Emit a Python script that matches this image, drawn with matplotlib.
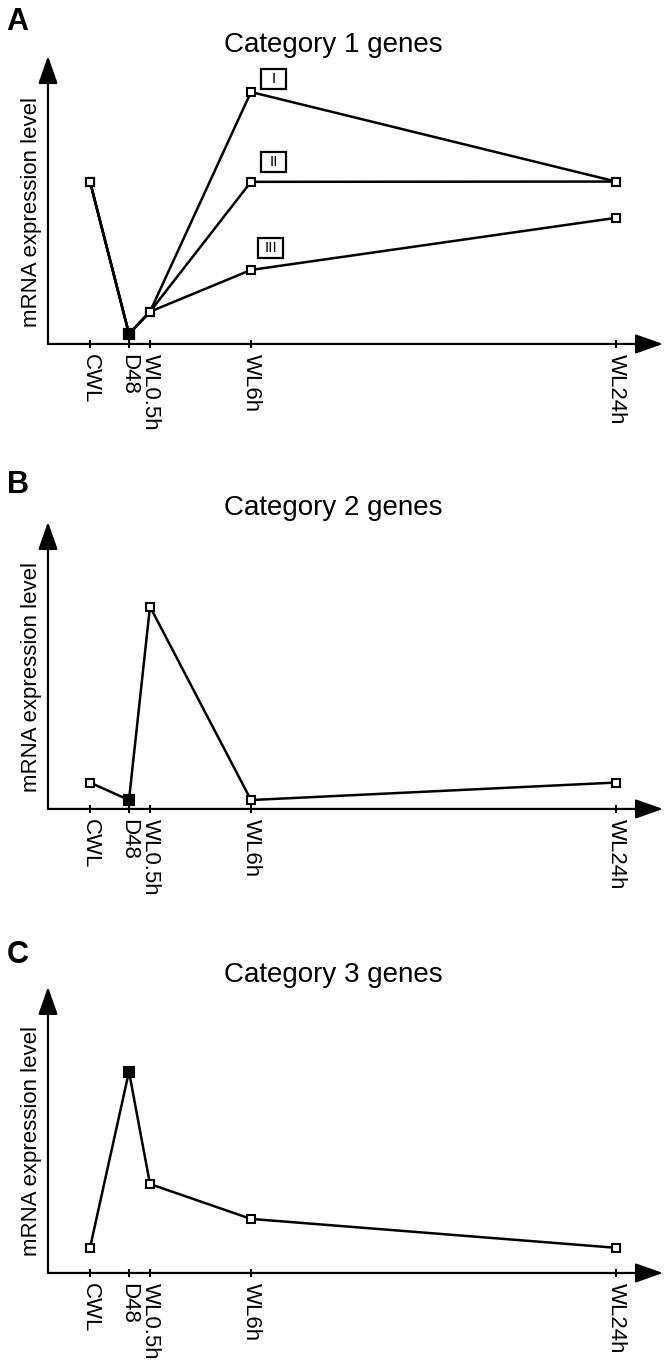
import matplotlib
matplotlib.use("Agg")
import matplotlib.pyplot as plt
from matplotlib.patches import Rectangle
from matplotlib.transforms import ScaledTranslation

plt.rcParams["font.family"] = ["Liberation Sans", "DejaVu Sans"]

# time points (schematic positions along the x axis)
TIMEPOINTS = ["CWL", "D48", "WL0.5h", "WL6h", "WL24h"]
X_POS = [2.1, 4.05, 5.1, 10.15, 28.4]

# category 1: three sub-patterns sharing the first three points
CAT1_I = [5.64, 0.35, 1.12, 8.75, 5.64]
CAT1_II = [5.64, 0.35, 1.12, 5.63, 5.64]
CAT1_III = [5.64, 0.35, 1.12, 2.57, 4.38]
CAT1_NAMES = ["I", "II", "III"]

CAT2 = [0.92, 0.31, 7.05, 0.31, 0.92]
CAT3 = [0.88, 7.04, 3.11, 1.89, 0.88]

LW = 1.8
AXIS_LW = 1.6


def draw_series(ax, y):
    ax.plot(X_POS, y, color="black", lw=LW, zorder=3, clip_on=False)
    # open squares, the D48 point is filled
    for i, (x, v) in enumerate(zip(X_POS, y)):
        filled = TIMEPOINTS[i] == "D48"
        ax.plot(x, v, marker="s", ms=6.5 if filled else 6, mew=1.5,
                mec="black", mfc="black" if filled else "white",
                zorder=4, clip_on=False)


def setup_axes(ax):
    ax.set_xlim(0, 30.75)
    ax.set_ylim(0, 10)
    for s in ax.spines.values():
        s.set_visible(False)
    arrow = dict(arrowstyle="-|>,head_length=0.85,head_width=0.3",
                 mutation_scale=20, lw=AXIS_LW, color="black",
                 shrinkA=0, shrinkB=0)
    ax.annotate("", xy=(1, 0), xytext=(0, 0), xycoords="axes fraction",
                arrowprops=arrow)
    ax.annotate("", xy=(0, 1), xytext=(0, 0), xycoords="axes fraction",
                arrowprops=arrow)
    ax.set_xticks(X_POS)
    ax.set_xticklabels(TIMEPOINTS, rotation=270, fontsize=16)
    ax.tick_params(axis="x", direction="inout", length=6, width=1.5, pad=4)
    ax.set_yticks([])
    ax.text(-0.0276, 0.46, "mRNA expression level", rotation=90,
            transform=ax.transAxes, ha="center", va="center", fontsize=16)


def boxed_label(ax, x, y, label):
    # fixed-size box (in inches) centred on a data position
    w, h = 0.25, 0.20
    tr = fig.dpi_scale_trans + ScaledTranslation(x, y, ax.transData)
    ax.add_patch(Rectangle((-w / 2, -h / 2), w, h, transform=tr,
                           fc="white", ec="black", lw=1.6, clip_on=False,
                           zorder=5))
    ax.text(x, y, label, ha="center", va="center", fontsize=11, zorder=6)


fig = plt.figure(figsize=(6.72, 13.66), dpi=100)

rects = [
    [0.0714, 0.7482, 0.9152, 0.2108],
    [0.0714, 0.4078, 0.9152, 0.2101],
    [0.0714, 0.0681, 0.9152, 0.2094],
]
letters = ["A", "B", "C"]
letter_y = [0.978, 0.639, 0.295]
title_y = [0.962, 0.623, 0.281]

axes = [fig.add_axes(r) for r in rects]
for ax in axes:
    setup_axes(ax)

for cat in [CAT1_I, CAT1_II, CAT1_III]:
    draw_series(axes[0], cat)
draw_series(axes[1], CAT2)
draw_series(axes[2], CAT3)

# roman numeral tags next to the WL6h peaks
tag_pos = [(11.3, 9.2), (11.3, 6.32), (11.15, 3.33)]
for (tx, ty), name in zip(tag_pos, CAT1_NAMES):
    boxed_label(axes[0], tx, ty, name)

for i in range(3):
    fig.text(0.01, letter_y[i], letters[i], fontsize=22, fontweight="bold",
             ha="left", va="baseline")
    fig.text(0.4955, title_y[i], f"Category {i + 1} genes", fontsize=20,
             ha="center", va="baseline")

fig.savefig("out.png", dpi=100)
